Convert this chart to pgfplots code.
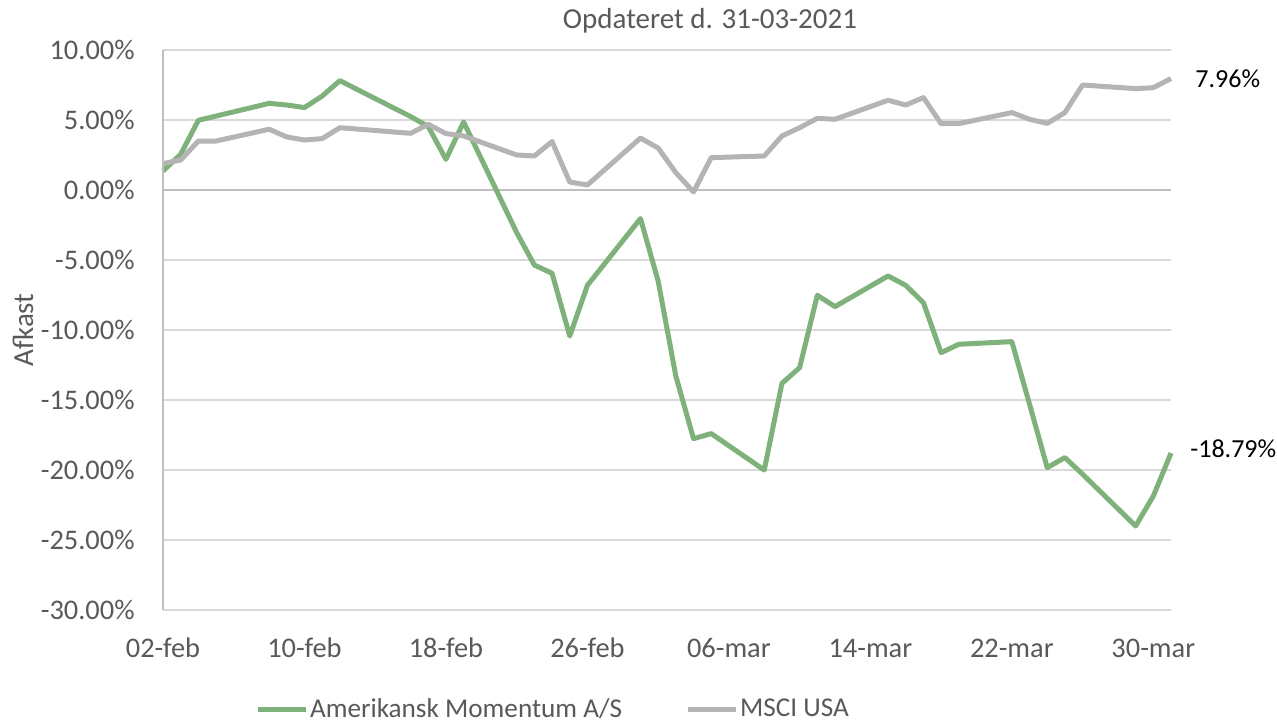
\documentclass[border=0pt]{standalone}
\usepackage{fontspec}
\setmainfont{Carlito}
\usepackage{pgfplots}
\pgfplotsset{compat=1.18}
\definecolor{grn}{HTML}{7FB27A}
\definecolor{gry}{HTML}{B4B4B4}
\definecolor{txt}{HTML}{595959}
\definecolor{grd}{HTML}{D9D9D9}
\definecolor{axl}{HTML}{BFBFBF}
\begin{document}
\begin{tikzpicture}
\begin{axis}[
 scale only axis, width=504pt, height=280pt,
 xmin=0, xmax=57, ymin=-30, ymax=10,
 axis line style={draw=none},
 xtick={0,8,...,56},
 xticklabels={02-feb,10-feb,18-feb,26-feb,06-mar,14-mar,22-mar,30-mar},
 ytick={-30,-25,...,10},
 yticklabels={-30.00\%,-25.00\%,-20.00\%,-15.00\%,-10.00\%,-5.00\%,0.00\%,5.00\%,10.00\%},
 major tick length=0pt,
 ymajorgrids, grid style={draw=grd, line width=0.75pt},
 tick label style={font=\fontsize{14.2}{16}\selectfont, text=txt, inner sep=0pt},
 yticklabel style={anchor=east, xshift=-14pt},
 xticklabel style={anchor=center, yshift=-19pt},
 extra y ticks={0}, extra y tick labels={},
 extra y tick style={grid style={draw=axl, line width=0.75pt}},
 clip=false,
 legend style={at={(rel axis cs:0.0913,-0.177)}, anchor=west, draw=none, fill=none,
   inner sep=0pt, nodes={inner sep=0.8pt}, font=\fontsize{13.6}{15}\selectfont, text=txt, legend columns=2,
   /tikz/every even column/.append style={column sep=31pt}},
 legend cell align=left,
 legend image code/.code={\draw[#1] (0pt,0pt) -- (24pt,0pt);},
]
\addplot[grn, line width=2.5pt, line join=round] coordinates {
(0,1.36) (1,2.55) (2,4.98) (3,5.28) (6,6.19) (7,6.07) (8,5.89) (9,6.71) (10,7.81)
(14,5.25) (15,4.53) (16,2.19) (17,4.86) (20,-3.04) (21,-5.36) (22,-5.95) (23,-10.43)
(24,-6.81) (27,-2.04) (28,-6.5) (29,-13.29) (30,-17.76) (31,-17.4) (34,-20.0)
(35,-13.81) (36,-12.69) (37,-7.52) (38,-8.33) (41,-6.14) (42,-6.81) (43,-8.05)
(44,-11.62) (45,-11.02) (48,-10.83) (49,-15.3) (50,-19.83) (51,-19.11) (52,-20.3)
(55,-24.0) (56,-21.86) (57,-18.79)
};
\addlegendentry{Amerikansk Momentum A/S}
\addplot[gry, line width=2.5pt, line join=round] coordinates {
(0,1.89) (1,2.14) (2,3.5) (3,3.5) (6,4.34) (7,3.79) (8,3.57) (9,3.67) (10,4.45)
(14,4.05) (15,4.69) (16,4.03) (17,3.86) (20,2.5) (21,2.43) (22,3.46) (23,0.57)
(24,0.36) (27,3.71) (28,3.0) (29,1.24) (30,-0.14) (31,2.31) (34,2.43) (35,3.86)
(36,4.45) (37,5.12) (38,5.05) (41,6.41) (42,6.07) (43,6.6) (44,4.74) (45,4.74)
(48,5.53) (49,5.05) (50,4.76) (51,5.53) (52,7.5) (55,7.24) (56,7.31) (57,7.96)
};
\addlegendentry{MSCI USA}
\draw[axl, line width=0.75pt] (rel axis cs:0,0) -- (rel axis cs:0,1);
\node[anchor=west, inner sep=0pt, font=\fontsize{13}{15}\selectfont] at (axis cs:57,7.96) [xshift=12pt] {7.96\%};
\node[anchor=west, inner sep=0pt, font=\fontsize{13}{15}\selectfont] at (axis cs:57,-18.79) [xshift=9.5pt, yshift=2pt] {-18.79\%};
\coordinate (sw) at (rel axis cs:0,0);
\end{axis}
\node[font=\fontsize{14.5}{17}\selectfont, text=txt] at ([shift={(273.5pt,294.5pt)}]sw) {Opdateret d. 31-03-2021};
\node[rotate=90, font=\fontsize{14.5}{17}\selectfont, text=txt] at ([shift={(-70pt,140pt)}]sw) {Afkast};
\pgfresetboundingbox
\path ([shift={(-81.5pt,-57.5pt)}]sw) rectangle ([shift={(557pt,305pt)}]sw);
\end{tikzpicture}
\end{document}
